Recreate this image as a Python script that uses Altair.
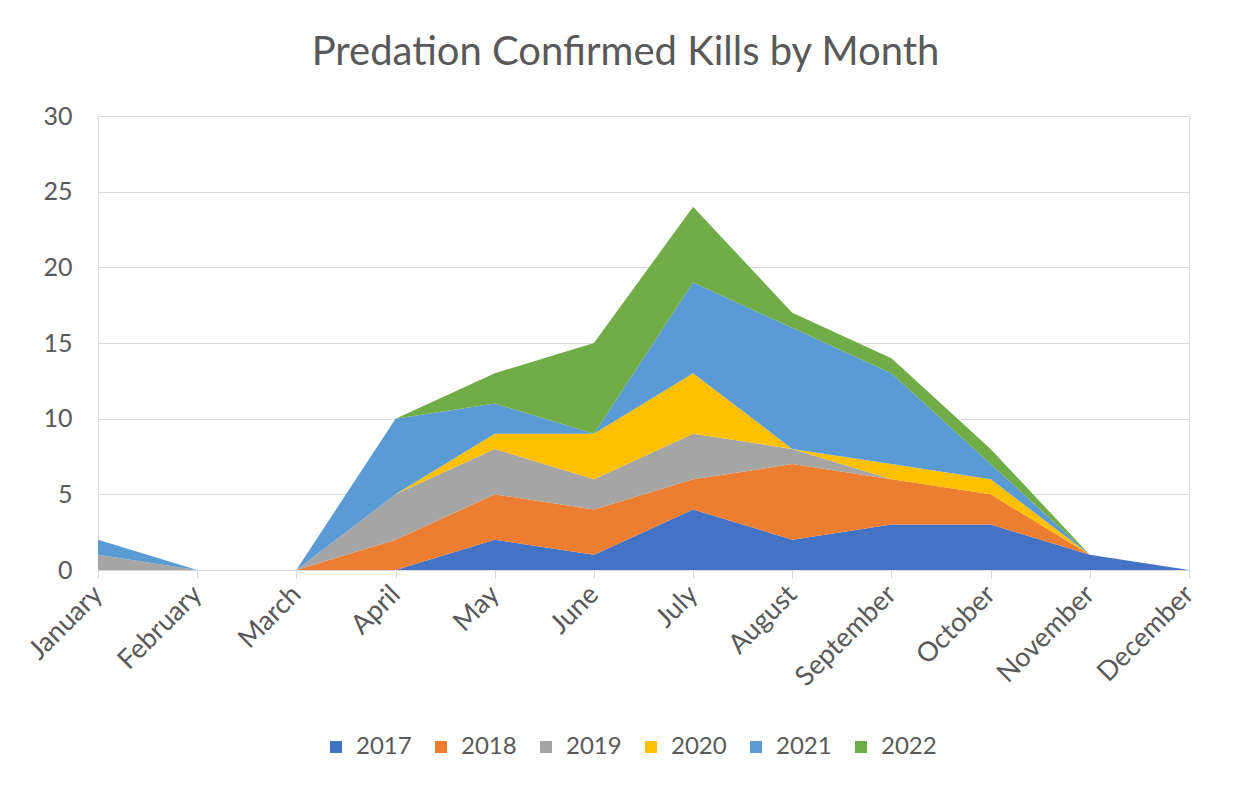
import altair as alt
import pandas as pd

months = ["January", "February", "March", "April", "May", "June", "July",
          "August", "September", "October", "November", "December"]
years = ["2017", "2018", "2019", "2020", "2021", "2022"]
colors = ["#4472C4", "#ED7D31", "#A5A5A5", "#FFC000", "#5B9BD5", "#70AD47"]

kills_2017 = [0, 0, 0, 0, 2, 1, 4, 2, 3, 3, 1, 0]
kills_2018 = [0, 0, 0, 2, 3, 3, 2, 5, 3, 2, 0, 0]
kills_2019 = [1, 0, 0, 3, 3, 2, 3, 1, 0, 0, 0, 0]
kills_2020 = [0, 0, 0, 0, 1, 3, 4, 0, 1, 1, 0, 0]
kills_2021 = [1, 0, 0, 5, 2, 0, 6, 8, 6, 1, 0, 0]
kills_2022 = [0, 0, 0, 0, 2, 6, 5, 1, 1, 1, 0, 0]

series = [kills_2017, kills_2018, kills_2019, kills_2020, kills_2021, kills_2022]
rows = []
for yi, (yr, vals) in enumerate(zip(years, series)):
    for m, v in zip(months, vals):
        rows.append({"Month": m, "Year": yr, "Kills": v, "order": yi})
df = pd.DataFrame(rows)

FONT = "Lato"
TXT = "#595959"
GRID = "#D9D9D9"

chart = alt.Chart(df).mark_area(interpolate="linear").encode(
    x=alt.X("Month:N", sort=months, scale=alt.Scale(type="point", padding=0),
            axis=alt.Axis(title=None, labelAngle=-45, labelAlign="right",
                          labelBaseline="middle", labelPadding=12,
                          labelFontSize=27, labelColor=TXT, labelFont=FONT,
                          domainColor=GRID, tickColor=GRID, tickSize=8,
                          labelOverlap=False, grid=False)),
    y=alt.Y("Kills:Q", stack="zero",
            scale=alt.Scale(domain=[0, 30], nice=False),
            axis=alt.Axis(title=None, values=[0, 5, 10, 15, 20, 25, 30],
                          domain=False, ticks=False, gridColor=GRID,
                          labelFontSize=25, labelColor=TXT, labelFont=FONT,
                          labelPadding=26)),
    color=alt.Color("Year:N", scale=alt.Scale(domain=years, range=colors),
                    legend=alt.Legend(title=None, orient="none", direction="horizontal",
                                      legendX=226, legendY=619,
                                      symbolType="square", symbolSize=144,
                                      symbolStrokeWidth=0, labelFontSize=24,
                                      labelColor=TXT, labelFont=FONT,
                                      labelOffset=8, columnPadding=17)),
    order=alt.Order("order:Q", sort="ascending"),
).properties(
    width=1091, height=454,
    title=alt.TitleParams("Predation Confirmed Kills by Month", fontSize=40,
                          font=FONT, color=TXT, fontWeight="normal",
                          anchor="middle", baseline="alphabetic", offset=51,
                          dx=-18, dy=52),
    padding={"left": 90, "top": 108, "right": 52, "bottom": 205},
    autosize=alt.AutoSizeParams(type="none"),
).configure_view(stroke=None).configure(background="white")

chart.save("out.html", embed_options={"renderer": "svg", "actions": False})
